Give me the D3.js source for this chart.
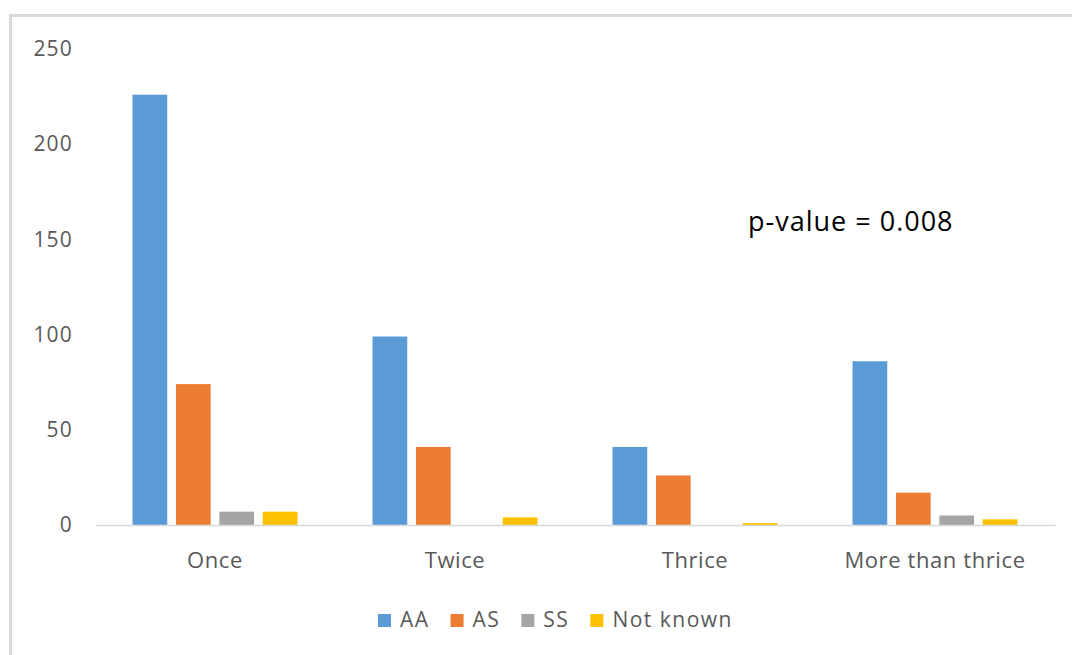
<!DOCTYPE html>
<html>
<head>
<meta charset="utf-8">
<script src="https://cdn.jsdelivr.net/npm/d3@7/dist/d3.min.js"></script>
<style>
  body { margin: 0; background: #fff; }
  text { font-family: "Open Sans", "Liberation Sans", sans-serif; }
</style>
</head>
<body>
<div id="chart"></div>
<script>
// chart data
var categories = ['Once', 'Twice', 'Thrice', 'More than thrice'];
var seriesNames = ['AA', 'AS', 'SS', 'Not known'];
var seriesColors = ['#5B9BD5', '#ED7D31', '#A5A5A5', '#FFC000'];
var aaValues = [226, 99, 41, 86];
var asValues = [74, 41, 26, 17];
var ssValues = [7, 0, 0, 5];
var notKnownValues = [7, 4, 1, 3];
var yTicks = [0, 50, 100, 150, 200, 250];
var note = 'p-value = 0.008';

var allValues = [aaValues, asValues, ssValues, notKnownValues];

var width = 1072;
var height = 655;
var textColor = '#595959';

var svg = d3.select('#chart').append('svg')
    .attr('width', width)
    .attr('height', height);

// frame (only top and left edges show in the picture)
svg.append('rect')
    .attr('x', 10.5)
    .attr('y', 15.5)
    .attr('width', width + 20)
    .attr('height', height + 20)
    .attr('fill', 'none')
    .attr('stroke', '#D9D9D9')
    .attr('stroke-width', 3);

var x0 = d3.scaleBand()
    .domain(categories)
    .range([95, 1055]);

var x1 = d3.scaleBand()
    .domain(seriesNames)
    .range([0, x0.bandwidth()])
    .paddingInner(0.2)
    .paddingOuter(0.865);

var y = d3.scaleLinear()
    .domain([0, 250])
    .range([525, 49]);

// y axis labels, no line, no ticks
var yAxis = d3.axisLeft(y).tickValues(yTicks).tickSize(0).tickPadding(0);
var yg = svg.append('g')
    .attr('transform', 'translate(73,0)')
    .call(yAxis);
yg.select('.domain').remove();
yg.selectAll('text')
    .attr('fill', textColor)
    .style('font-size', '21px')
    .style('letter-spacing', '1.2px');

// bars
var rows = [];
categories.forEach(function (c, i) {
    seriesNames.forEach(function (s, j) {
        rows.push({cat: c, series: s, value: allValues[j][i], color: seriesColors[j]});
    });
});

svg.append('g').selectAll('rect')
    .data(rows)
    .enter().append('rect')
    .attr('x', function (d) { return x0(d.cat) + x1(d.series); })
    .attr('y', function (d) { return y(d.value); })
    .attr('width', x1.bandwidth())
    .attr('height', function (d) { return y(0) - y(d.value); })
    .attr('fill', function (d) { return d.color; });

// x axis line + category labels
var xAxis = d3.axisBottom(x0).tickSize(0).tickPadding(0);
var xg = svg.append('g')
    .attr('transform', 'translate(0,' + y(0) + ')')
    .call(xAxis);
xg.select('.domain')
    .attr('stroke', '#D9D9D9')
    .attr('stroke-width', 1.5);
xg.selectAll('text')
    .attr('y', 35)
    .attr('dy', '0.35em')
    .attr('fill', textColor)
    .style('font-size', '22px')
    .style('letter-spacing', '0.6px');

// note
svg.append('text')
    .attr('x', 748)
    .attr('y', 231)
    .attr('fill', '#000')
    .style('font-size', '27px')
    .style('letter-spacing', '1px')
    .text(note);

// legend
var legend = svg.append('g').attr('transform', 'translate(378,620)');
var lx = 0;
seriesNames.forEach(function (s, j) {
    var item = legend.append('g').attr('transform', 'translate(' + lx + ',0)');
    item.append('rect')
        .attr('x', 0)
        .attr('y', -6)
        .attr('width', 13)
        .attr('height', 13)
        .attr('fill', seriesColors[j]);
    var t = item.append('text')
        .attr('x', 22)
        .attr('dy', '0.35em')
        .attr('fill', textColor)
        .style('font-size', '21px')
        .style('letter-spacing', '1.5px')
        .text(s);
    lx += 22 + t.node().getComputedTextLength() + 21;
});
</script>
</body>
</html>
